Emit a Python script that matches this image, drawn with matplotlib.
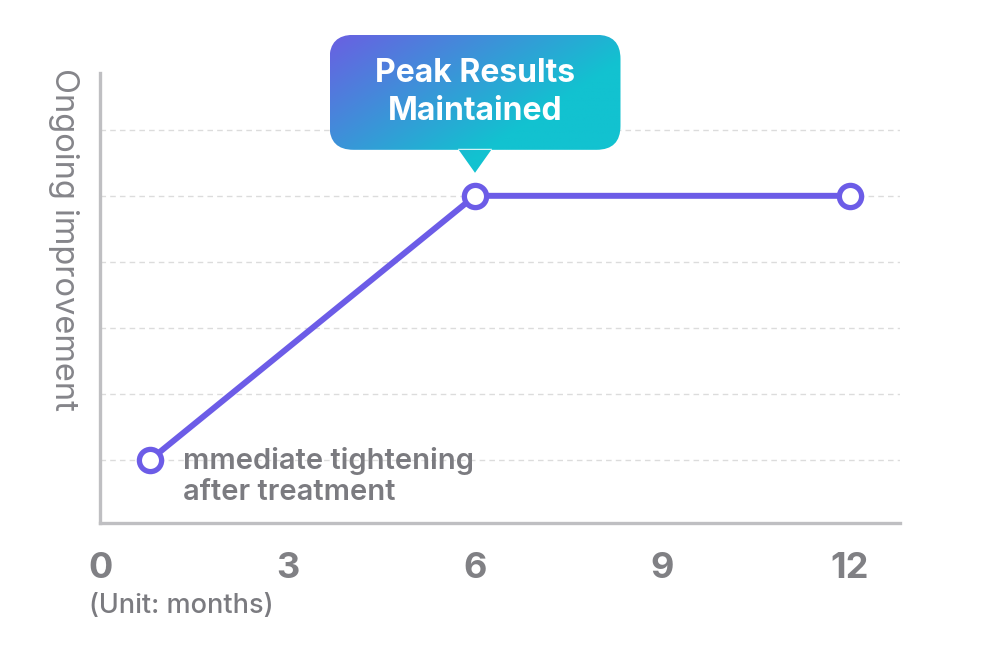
import numpy as np
import matplotlib
matplotlib.use("Agg")
import matplotlib.pyplot as plt
from matplotlib.patches import FancyBboxPatch, Polygon, PathPatch
from matplotlib.path import Path

plt.rcParams['font.family'] = ['Inter', 'DejaVu Sans']

# ---- data ----
months = [0.8, 6, 12]
improvement = [1, 5, 5]
x_ticks = [0, 3, 6, 9, 12]
x_tick_labels = ["0", "3", "6", "9", "12"]
grid_levels = [1, 2, 3, 4, 5, 6]
start_label = "mmediate tightening\nafter treatment"
peak_label = "Peak Results\nMaintained"
y_title = "Ongoing improvement"
unit_label = "(Unit: months)"

LINE = "#6c5ce7"
GRAY_TXT = "#7b7b80"
SPINE = "#bfbfc2"

fig = plt.figure(figsize=(10, 6.5), dpi=100)
ax = fig.add_axes([0.1, 1 - 523 / 650, 0.8, (523 - 73) / 650])
ax.set_xlim(0, 12.8)
ax.set_ylim(0.045, 6.86)

for g in grid_levels:
    ax.axhline(g, color="#dcdcdc", lw=1.0, ls=(0, (4, 3)), zorder=0)

ax.plot(months, improvement, color=LINE, lw=4.3, zorder=3, solid_capstyle="round")
ax.plot(months, improvement, ls="none", marker="o", ms=16, mfc="white",
        mec=LINE, mew=3.8, zorder=4)

for s in ["top", "right"]:
    ax.spines[s].set_visible(False)
for s in ["left", "bottom"]:
    ax.spines[s].set_color(SPINE)
    ax.spines[s].set_linewidth(2.4)

ax.set_yticks([])
ax.set_xticks(x_ticks)
ax.set_xticklabels(x_tick_labels, fontsize=26, fontweight="bold", color="#808084")
ax.tick_params(axis="x", length=0, pad=21)

ax.set_ylabel(y_title, rotation=270, fontsize=23.5, color="#85858a", labelpad=0)
ax.yaxis.set_label_coords(-0.065, 0.63)

ax.annotate(unit_label, xy=(0, 0), xycoords=("data", "axes fraction"),
            xytext=(-11, -83), textcoords="offset pixels", ha="left", va="center",
            fontsize=19.5, color="#7b7b80", fontweight="medium")

ax.annotate(start_label, xy=(months[0], improvement[0]), xytext=(33, 13),
            textcoords="offset pixels", ha="left", va="top", fontsize=21,
            fontweight="semibold", color=GRAY_TXT, linespacing=1.2, zorder=5)

# ---- callout (gradient speech bubble) anchored at peak point ----
fig.canvas.draw()
px, py = ax.transData.transform((months[1], improvement[1]))
ov = fig.add_axes([0, 0, 1, 1], zorder=10)
ov.set_xlim(0, 1000)
ov.set_ylim(0, 650)
ov.axis("off")
ov.patch.set_alpha(0)

bw, bh = 291, 115
bx0 = px - bw / 2
by0 = py + 46
r = 24
box = FancyBboxPatch((bx0 + r, by0 + r), bw - 2 * r, bh - 2 * r,
                     boxstyle=f"round,pad={r}", fc="none", ec="none")
tri = Polygon([(px - 17, by0 + 1), (px + 17, by0 + 1), (px, py + 23)], closed=True,
              fc="none", ec="none")
ov.add_patch(box)
ov.add_patch(tri)
comb = Path.make_compound_path(box.get_path().transformed(box.get_patch_transform()),
                               tri.get_path().transformed(tri.get_patch_transform()))

c1 = np.array([0x6a, 0x5f, 0xe2]) / 255
c2 = np.array([0x12, 0xc2, 0xd0]) / 255
gx = np.linspace(0, 1, 200)
gy = np.linspace(0, 1, 160)
X, Y = np.meshgrid(gx, gy)  # Y = 0 at top row
t = np.clip((0.75 * X + 0.55 * Y) / 0.85, 0, 1)
img = c1[None, None, :] * (1 - t[..., None]) + c2[None, None, :] * t[..., None]
im = ov.imshow(img, extent=(bx0, bx0 + bw, py + 20, by0 + bh), origin="upper",
               aspect="auto", zorder=11)
clip = PathPatch(comb, transform=ov.transData, fc="none", ec="none")
ov.add_patch(clip)
im.set_clip_path(clip)

ov.text(px, by0 + bh / 2, peak_label, ha="center", va="center", color="white",
        fontsize=23, fontweight="bold", linespacing=1.27, zorder=12)

fig.savefig("out.png", dpi=100, facecolor="white")
